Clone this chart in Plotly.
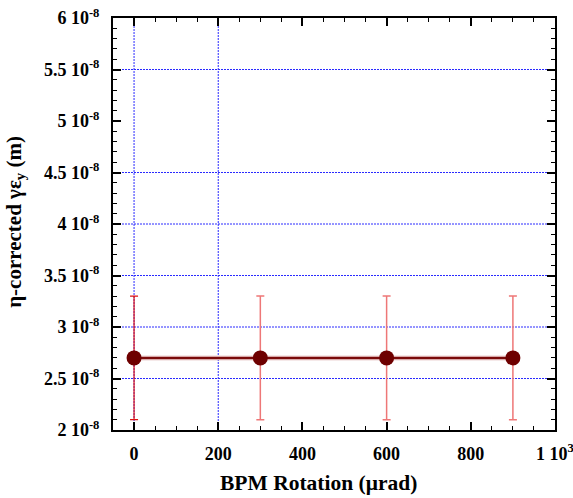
import plotly.graph_objects as go

rotation = [0, 300, 600, 900]
emittance = [2.7e-8, 2.7e-8, 2.7e-8, 2.7e-8]
err_plus = [0.6e-8, 0.6e-8, 0.6e-8, 0.6e-8]
err_minus = [0.6e-8, 0.6e-8, 0.6e-8, 0.6e-8]

x_tickvals = [0, 200, 400, 600, 800, 1000]
x_ticktext = ["0", "200", "400", "600", "800", "1 10<sup>3</sup>"]
y_tickvals = [2e-8, 2.5e-8, 3e-8, 3.5e-8, 4e-8, 4.5e-8, 5e-8, 5.5e-8, 6e-8]
y_ticktext = ["2 10<sup>-8</sup>", "2.5 10<sup>-8</sup>", "3 10<sup>-8</sup>", "3.5 10<sup>-8</sup>",
              "4 10<sup>-8</sup>", "4.5 10<sup>-8</sup>", "5 10<sup>-8</sup>", "5.5 10<sup>-8</sup>",
              "6 10<sup>-8</sup>"]
x_grid = [0, 200]
y_grid = [2.5e-8, 3e-8, 3.5e-8, 4e-8, 4.5e-8, 5.5e-8]
x_title = "<b>BPM Rotation (μrad)</b>"
y_title = "<b>η-corrected γε<sub>y</sub> (m)</b>"

FONT = "Liberation Serif"
GRID = "#2a2aff"
fig = go.Figure()

# dotted grid lines
for gx in x_grid:
    fig.add_shape(type="line", xref="x", yref="paper", x0=gx, x1=gx, y0=0, y1=1, layer="below",
                  line=dict(color=GRID, width=1, dash="2px,1px"))
for gy in y_grid:
    fig.add_shape(type="line", xref="paper", yref="y", x0=0, x1=1, y0=gy, y1=gy, layer="below",
                  line=dict(color=GRID, width=1, dash="2px,1px"))

# error bars: first point red, others lighter
fig.add_trace(go.Scatter(
    x=rotation[:1], y=emittance[:1], mode="markers",
    marker=dict(size=1, opacity=0),
    error_y=dict(type="data", symmetric=False, array=err_plus[:1], arrayminus=err_minus[:1],
                 color="#dd1111", thickness=1.2, width=4),
    showlegend=False, hoverinfo="skip"))
fig.add_trace(go.Scatter(
    x=rotation[1:], y=emittance[1:], mode="markers",
    marker=dict(size=1, opacity=0),
    error_y=dict(type="data", symmetric=False, array=err_plus[1:], arrayminus=err_minus[1:],
                 color="#ee7777", thickness=1.5, width=4),
    showlegend=False, hoverinfo="skip"))
# line with light outline
fig.add_trace(go.Scatter(x=rotation, y=emittance, mode="lines",
                         line=dict(color="#d8a8a8", width=4.5), showlegend=False, hoverinfo="skip"))
fig.add_trace(go.Scatter(x=rotation, y=emittance, mode="lines+markers",
                         line=dict(color="#7a0a0a", width=2),
                         marker=dict(color="#6e0000", size=15), showlegend=False))

fig.update_layout(
    width=573, height=498,
    margin=dict(l=113, r=18, t=18, b=68, autoexpand=False),
    paper_bgcolor="white", plot_bgcolor="white",
    font=dict(family=FONT, color="black"),
    xaxis=dict(range=[-50, 1000], tickvals=x_tickvals,
               ticktext=["<b>%s</b>" % t for t in x_ticktext],
               ticks="inside", ticklen=8, tickwidth=1.5, tickcolor="black",
               minor=dict(dtick=50, tick0=0, ticks="inside", ticklen=4, tickwidth=1, tickcolor="black"),
               showline=True, linewidth=2, linecolor="black", mirror="allticks",
               showgrid=False, zeroline=False, ticklabelstandoff=6, ticklabeloverflow="allow",
               tickfont=dict(family=FONT, size=18, color="black")),
    yaxis=dict(range=[2e-8, 6e-8], tickvals=y_tickvals,
               ticktext=["<b>%s</b>" % t for t in y_ticktext],
               ticks="inside", ticklen=8, tickwidth=1.5, tickcolor="black",
               minor=dict(dtick=0.1e-8, tick0=0, ticks="inside", ticklen=4, tickwidth=1, tickcolor="black"),
               showline=True, linewidth=2, linecolor="black", mirror="allticks",
               showgrid=False, zeroline=False, ticklabelstandoff=8, ticklabeloverflow="allow",
               tickfont=dict(family=FONT, size=18, color="black")),
)
fig.add_annotation(text=x_title, xref="paper", yref="paper", x=0.466, y=-0.128,
                   xanchor="center", yanchor="middle", showarrow=False,
                   font=dict(family=FONT, size=21.5, color="black"))
fig.add_annotation(text=y_title, xref="paper", yref="paper", x=-0.222, y=0.505,
                   xanchor="center", yanchor="middle", showarrow=False, textangle=-90,
                   font=dict(family=FONT, size=21, color="black"))

fig.write_html("out.html")
